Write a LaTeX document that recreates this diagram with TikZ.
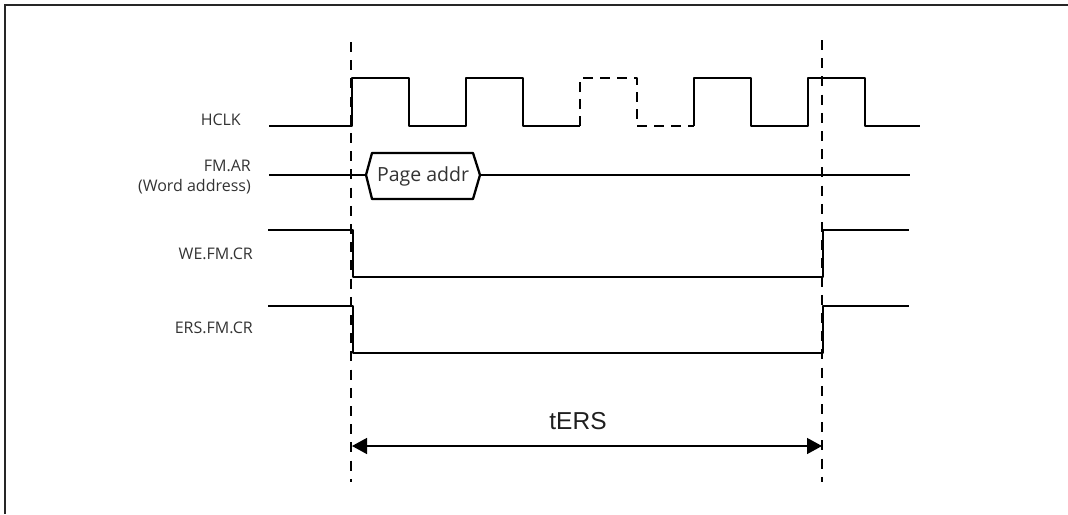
\documentclass[tikz,border=0pt]{standalone}
\usepackage{fontspec}
\setmainfont{Open Sans}
\newfontfamily\arialfont{Liberation Sans}
\usetikzlibrary{arrows.meta}
\definecolor{lbl}{HTML}{333333}
\begin{document}
\begin{tikzpicture}[x=1pt,y=-1pt,
  sig/.style={line width=2.3pt, line join=round},
  dsig/.style={line width=2.3pt, line join=round, dash pattern=on 10pt off 7pt},
  guide/.style={line width=2.3pt, dash pattern=on 10pt off 8.2pt},
  lab/.style={font=\fontsize{16}{18}\selectfont, text=lbl, anchor=east, inner sep=0pt, align=right},
  frame/.style={line width=2.5pt, draw=black!85}]
\useasboundingbox (0,0) rectangle (1068,514);
% frame
\draw[frame] (5,514) -- (5,5) -- (1068,5);
% guide lines
\coordinate (g1t) at (351,42); \coordinate (g1b) at (351,482);
\coordinate (g2t) at (822,40); \coordinate (g2b) at (822,482);
\draw[guide] (g1t) -- (g1b);
\draw[guide] (g2t) -- (g2b);
% labels
\node[lab] (lhclk) at (241,120) {HCLK};
\node[lab] (lfm) at (251,166) {FM.AR};
\node[lab] (lword) at (251,187) {(Word address)};
\node[lab] (lwe) at (253,254) {WE.FM.CR};
\node[lab] (lers) at (253,328) {ERS.FM.CR};
% HCLK
\draw[sig] (269,126) -- (352,126) -- (352,78) -- (409,78) -- (409,126) -- (466,126) -- (466,78) -- (523,78) -- (523,126) -- (580,126);
\draw[dsig] (580,126) -- (580,78) -- (637,78) -- (637,126) -- (694,126);
\draw[sig] (694,126) -- (694,78) -- (751,78) -- (751,126) -- (808,126) -- (808,78) -- (865,78) -- (865,126) -- (920,126);
% FM.AR
\coordinate (hl) at (366,175); \coordinate (hr) at (480,175);
\draw[sig] (269,175) -- (hl);
\draw[sig] (hl) -- (372,153) -- (473,153) -- (hr) -- (473,199) -- (372,199) -- cycle;
\node[font=\fontsize{19.5}{22}\selectfont, text=lbl, inner sep=0pt] (page) at (423,176) {Page addr};
\draw[sig] (hr) -- (910,175);
% WE.FM.CR
\draw[sig] (268,230) -- (353,230) -- (353,277) -- (823,277) -- (823,230) -- (909,230);
% ERS.FM.CR
\draw[sig] (268,306) -- (353,306) -- (353,353) -- (823,353) -- (823,306) -- (909,306);
% tERS
\coordinate (a1) at (352,446); \coordinate (a2) at (822,446);
\draw[line width=1.4pt, {Triangle[length=15pt,width=16pt]}-{Triangle[length=15pt,width=16pt]}] (a1) -- (a2);
\node[font=\arialfont\fontsize{24.5}{26}\selectfont, text=black!88, inner sep=0pt] (ters) at (578,421) {tERS};
\end{tikzpicture}
\end{document}
